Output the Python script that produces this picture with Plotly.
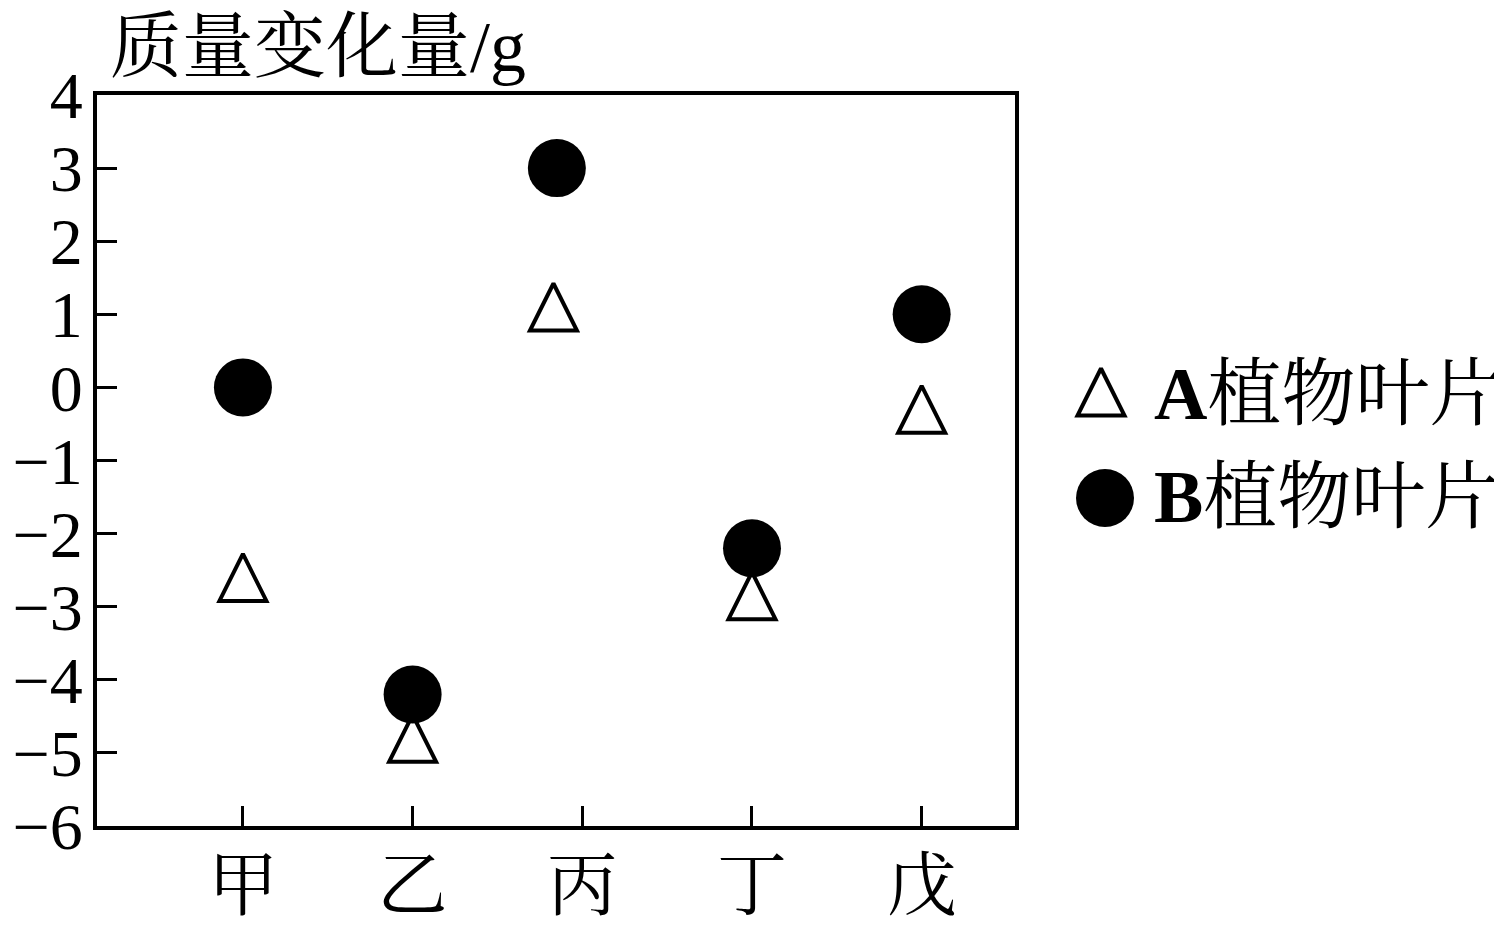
import plotly.graph_objects as go

# groups on the x axis and the measured mass change of leaves (g)
categories = ["甲", "乙", "丙", "丁", "戊"]
tick_pos = [0, 1, 2, 3, 4]
a_x = [0, 1, 1.83, 3, 4]
a_values = [-2.6, -4.8, 1.1, -2.85, -0.3]
b_x = [0, 1, 1.85, 3, 4]
b_values = [0, -4.2, 3, -2.2, 1]
y_ticks = [4, 3, 2, 1, 0, -1, -2, -3, -4, -5, -6]
legend_names = ["<b>A</b>植物叶片", "<b>B</b>植物叶片"]

W, H = 1502, 927
L, R, T, B = 97, 1015, 95, 826  # plot box in window pixels
OFF = 8  # the page body keeps its default 8px margin

FONT = "Times New Roman, Liberation Serif, Noto Serif CJK SC, Noto Sans CJK SC, serif"
TRI_SIZE = 47

# upward triangle centred on its point: arrow-down turned round, pushed back by half its size
triangle = dict(symbol="arrow-down", angle=180, size=TRI_SIZE, standoff=TRI_SIZE / 2,
                color="white", line=dict(color="black", width=4))
dot = dict(symbol="circle", size=58, color="black", line=dict(width=0))


def px_x(px):
    return (px - L) / (W - L)


def px_y(py):
    return (B - py) / (B - T)


fig = go.Figure()

# A leaves: open triangles
fig.add_trace(go.Scatter(x=a_x, y=a_values, mode="markers", showlegend=False,
                         marker=triangle))

# B leaves: filled circles
fig.add_trace(go.Scatter(x=b_x, y=b_values, mode="markers", showlegend=False,
                         marker=dot))

# hand-made legend on a helper axis to the right (plotly caps legend symbol size)
fig.add_trace(go.Scatter(x=[1101], y=[392], xaxis="x2", yaxis="y2", mode="markers",
                         showlegend=False, marker=triangle))
fig.add_trace(go.Scatter(x=[1105], y=[498], xaxis="x2", yaxis="y2", mode="markers",
                         showlegend=False, marker=dot))

for name, ly in zip(legend_names, [394, 497]):
    fig.add_annotation(x=1152, y=ly, xref="x2", yref="y2", text=name,
                       showarrow=False, xanchor="left", yanchor="middle",
                       font=dict(family=FONT, size=74, color="black"))

# axis title above the box
fig.add_annotation(x=px_x(108), y=px_y(47), xref="paper", yref="paper",
                   text="质量变化量/g", showarrow=False,
                   xanchor="left", yanchor="middle",
                   font=dict(family=FONT, size=72, color="black"))

axis_common = dict(ticks="inside", ticklen=20, tickwidth=3, tickcolor="black",
                   showline=True, linewidth=4, linecolor="black", mirror=True,
                   showgrid=False, zeroline=False, automargin=False)

fig.update_layout(
    template="none",
    width=W - OFF, height=H - OFF,
    margin=dict(l=L - OFF, r=0, t=T - OFF, b=H - B, pad=0),
    paper_bgcolor="white", plot_bgcolor="white",
    font=dict(family=FONT, color="black"),
    xaxis=dict(domain=[0, px_x(R)], range=[-0.86, 4.55],
               tickvals=tick_pos, ticktext=categories,
               ticklabelstandoff=-4,
               tickfont=dict(size=70, family=FONT, color="black"), **axis_common),
    yaxis=dict(range=[-6, 4], tickvals=y_ticks,
               ticklabelstandoff=-3,
               tickfont=dict(size=66, family=FONT, color="black"), **axis_common),
    xaxis2=dict(domain=[px_x(R), 1], range=[R, W], visible=False,
                anchor="y2", fixedrange=True),
    yaxis2=dict(domain=[0, 1], range=[B, T], visible=False,
                anchor="x2", fixedrange=True),
)

fig.write_html("out.html")
